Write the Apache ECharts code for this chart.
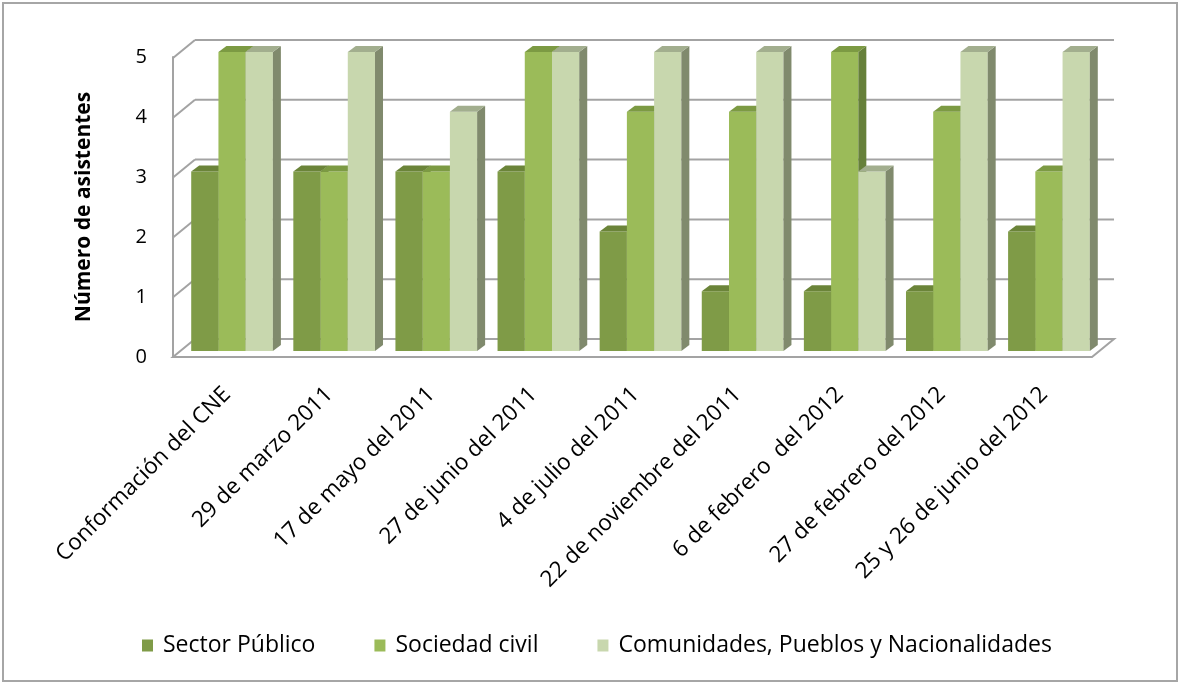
<!DOCTYPE html>
<html>
<head>
<meta charset="utf-8">
<script src="https://cdn.jsdelivr.net/npm/echarts@6/dist/echarts.min.js"></script>
<style>
html,body{margin:0;padding:0;background:#fff;}
#main{width:1180px;height:683px;}
</style>
</head>
<body>
<div id="main"></div>
<script>
var categories = ['Conformación del CNE','29 de marzo 2011','17 de mayo del 2011','27 de junio del 2011','4 de julio del 2011','22 de noviembre del 2011','6 de febrero  del 2012','27 de febrero del 2012','25 y 26 de junio del 2012'];
var sectorPublico = [3,3,3,3,2,1,1,1,2];
var sociedadCivil = [5,3,3,5,4,4,5,4,3];
var comunidades = [5,5,4,5,5,5,3,5,5];
var yTicks = [0,1,2,3,4,5];
var seriesNames = ['Sector Público','Sociedad civil','Comunidades, Pueblos y Nacionalidades'];

var FONT = 'Open Sans';
var DX = 8, DY = 6;          // bar depth
var FRONT_DX = -8, FRONT_DY = 6;  // front plane offset from bar plane
var BACK_DX = 14, BACK_DY = -12;  // back plane offset from bar plane
var GRID_COLOR = '#a3a3a3';

var palettes = [
  {front:'#7f9b47', top:'#6b8439', side:'#5f7632'},
  {front:'#9bbb59', top:'#7c9a43', side:'#66803a'},
  {front:'#c8d7ae', top:'#a2ae8e', side:'#808a6d'}
];

function barRender(sIdx){
  return function(params, api){
    var i = api.value(0), v = api.value(1);
    var c = api.coord([i, v]);
    var b = api.coord([i, 0]);
    var band = api.size([1,0])[0];
    var groupW = band*0.8;
    var bw = groupW/3;
    var x = c[0] - groupW/2 + sIdx*bw;
    var yt = c[1], yb = b[1];
    var p = palettes[sIdx];
    return {
      type:'group',
      children:[
        {type:'rect', shape:{x:x, y:yt, width:bw, height:yb-yt}, style:{fill:p.front}},
        {type:'polygon', shape:{points:[[x+bw,yt],[x+bw+DX,yt-DY],[x+bw+DX,yb-DY],[x+bw,yb]]}, style:{fill:p.side}},
        {type:'polygon', shape:{points:[[x,yt],[x+DX,yt-DY],[x+bw+DX,yt-DY],[x+bw,yt]]}, style:{fill:p.top}}
      ]
    };
  };
}

function wallRender(params, api){
  var v = api.value(0);
  var cs = params.coordSys;
  var y = api.coord([0, v])[1];
  var fx = cs.x + FRONT_DX, fy = y + FRONT_DY;
  var bx = cs.x + BACK_DX, by = y + BACK_DY;
  var W = cs.width;
  var children = [];
  if (v === 0) {
    children.push({type:'polygon', shape:{points:[[fx,fy],[fx+W,fy],[bx+W,by],[bx,by]]},
      style:{fill:'#ffffff', stroke:GRID_COLOR, lineWidth:2}});
  } else {
    children.push({type:'line', shape:{x1:fx, y1:fy, x2:bx, y2:by}, style:{stroke:GRID_COLOR, lineWidth:2}});
    children.push({type:'line', shape:{x1:bx, y1:by, x2:bx+W, y2:by}, style:{stroke:GRID_COLOR, lineWidth:2}});
  }
  return {type:'group', children:children};
}

function pairs(arr){ return arr.map(function(v,i){return [i,v];}); }
var allSeries = [sectorPublico, sociedadCivil, comunidades];

var series = [{
  type:'custom', name:'walls', xAxisIndex:0, yAxisIndex:0, z:1, silent:true,
  renderItem: wallRender, data: yTicks.map(function(t){return [t];}),
  encode:{y:0}
}];
allSeries.forEach(function(arr, s){
  series.push({
    type:'custom', name:seriesNames[s], xAxisIndex:0, yAxisIndex:0, z:5,
    itemStyle:{color:palettes[s].front},
    renderItem: barRender(s), data: pairs(arr), encode:{x:0, y:1}
  });
});

var chart = echarts.init(document.getElementById('main'), null, {renderer:'canvas'});
chart.setOption({
  animation:false,
  backgroundColor:'#ffffff',
  grid:[
    {left:181, right:80, top:52, bottom:332},
    {left:173, right:88, top:57, bottom:326}
  ],
  xAxis:[
    {gridIndex:0, type:'category', data:categories, boundaryGap:true,
     axisLine:{show:false}, axisTick:{show:false}, splitLine:{show:false},
     axisLabel:{rotate:45, margin:35, interval:0, fontSize:22.5, fontFamily:FONT, color:'#000', padding:[0,7,0,0]}},
    {gridIndex:1, type:'category', data:categories, show:false}
  ],
  yAxis:[
    {gridIndex:0, type:'value', min:0, max:5, interval:1, show:false},
    {gridIndex:1, type:'value', min:0, max:5, interval:1,
     axisLine:{show:true, lineStyle:{color:GRID_COLOR, width:2}},
     axisTick:{show:false}, splitLine:{show:false},
     axisLabel:{margin:26, fontSize:20, fontFamily:FONT, color:'#000'},
     name:'Número de asistentes', nameLocation:'middle', nameGap:78, nameRotate:90,
     nameTextStyle:{fontSize:21, fontWeight:'bold', fontFamily:FONT, color:'#000'}}
  ],
  legend:{
    data:seriesNames, top:629, left:137, icon:'rect', itemWidth:11, itemHeight:12, itemGap:59,
    textStyle:{fontSize:23, fontFamily:FONT, color:'#000', padding:[0,0,0,5]}
  },
  graphic:[{type:'rect', shape:{x:3, y:3, width:1174, height:678}, style:{fill:null, stroke:'#a6a6a6', lineWidth:2}, z:-1, silent:true}],
  series:series
});
</script>
</body>
</html>
